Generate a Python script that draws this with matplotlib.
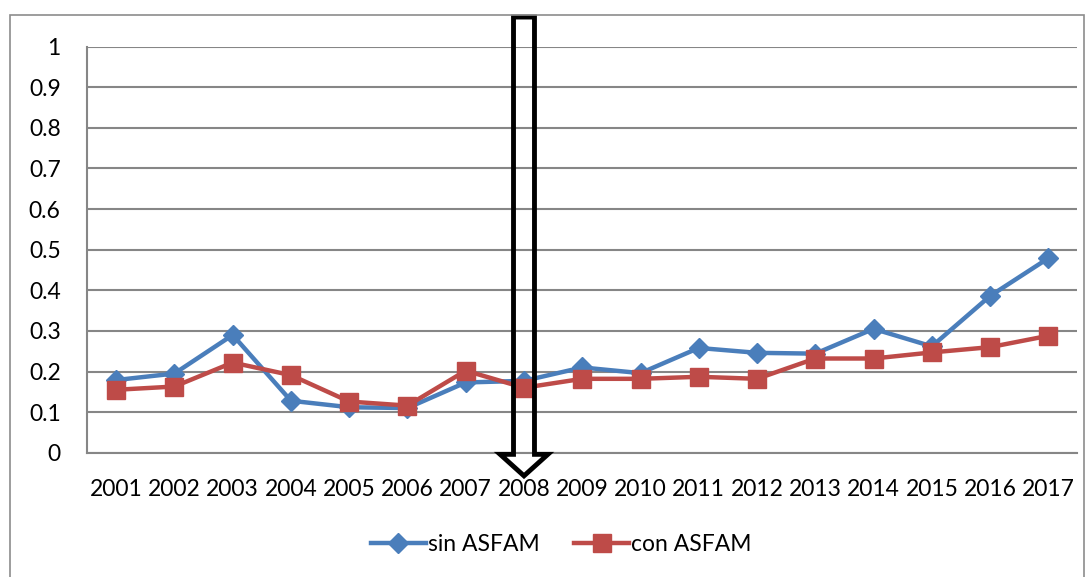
import matplotlib.pyplot as plt
from matplotlib.patches import FancyArrow, Rectangle

plt.rcParams['font.family'] = ['Lato', 'DejaVu Sans']

years = ['2001', '2002', '2003', '2004', '2005', '2006', '2007', '2008', '2009',
         '2010', '2011', '2012', '2013', '2014', '2015', '2016', '2017']
sin_asfam = [0.179, 0.195, 0.290, 0.128, 0.112, 0.110, 0.173, 0.177, 0.210,
             0.196, 0.258, 0.246, 0.244, 0.305, 0.262, 0.386, 0.479]
con_asfam = [0.155, 0.163, 0.222, 0.191, 0.126, 0.116, 0.202, 0.160, 0.182,
             0.182, 0.187, 0.182, 0.232, 0.232, 0.247, 0.260, 0.288]
y_ticks = [0, 0.1, 0.2, 0.3, 0.4, 0.5, 0.6, 0.7, 0.8, 0.9, 1]
y_labels = ['0', '0.1', '0.2', '0.3', '0.4', '0.5', '0.6', '0.7', '0.8', '0.9', '1']
marked_year = '2008'

blue = '#4a7ebb'
red = '#be4b48'
grid_gray = '#868686'

fig = plt.figure(figsize=(10.92, 5.77), dpi=100)
ax = fig.add_axes([0.0797, 0.2154, 0.907, 0.7037])

# outer chart frame
fig.patches.append(Rectangle((10 / 1092, -0.01), 1074 / 1092, 1 - 15 / 577 + 0.01,
                             transform=fig.transFigure, fill=False,
                             edgecolor='#8c8c8c', lw=1.2))

x = list(range(len(years)))
ax.plot(x, sin_asfam, color=blue, lw=3.2, marker='D', markersize=10,
        label='sin ASFAM', zorder=3)
ax.plot(x, con_asfam, color=red, lw=3.2, marker='s', markersize=13,
        label='con ASFAM', zorder=4)

ax.set_xlim(-0.5, len(years) - 0.5)
ax.set_ylim(0, 1)
ax.set_yticks(y_ticks)
ax.set_yticklabels(y_labels)
ax.set_xticks(x)
ax.set_xticklabels(years)
ax.tick_params(axis='both', length=0, labelsize=16.5, colors='black')
ax.tick_params(axis='y', pad=19)
ax.tick_params(axis='x', pad=19)

ax.grid(axis='y', color=grid_gray, lw=1.5)
ax.set_axisbelow(True)
for side in ['top', 'right']:
    ax.spines[side].set_visible(False)
for side in ['left', 'bottom']:
    ax.spines[side].set_color(grid_gray)
    ax.spines[side].set_linewidth(1.5)

# hollow arrow pointing down at 2008
xa = years.index(marked_year)
arrow = FancyArrow(xa, 1.073, 0, -1.13, width=0.36, head_width=0.82,
                   head_length=0.053, length_includes_head=True,
                   facecolor='none', edgecolor='black', lw=3.5,
                   clip_on=False, zorder=6)
ax.add_patch(arrow)

fig.legend(loc='center', bbox_to_anchor=(0.514, 0.056), ncol=2, frameon=False,
           fontsize=16.5, handlelength=2.4, handletextpad=0.1, columnspacing=1.5)

fig.savefig('out.png', dpi=100)
